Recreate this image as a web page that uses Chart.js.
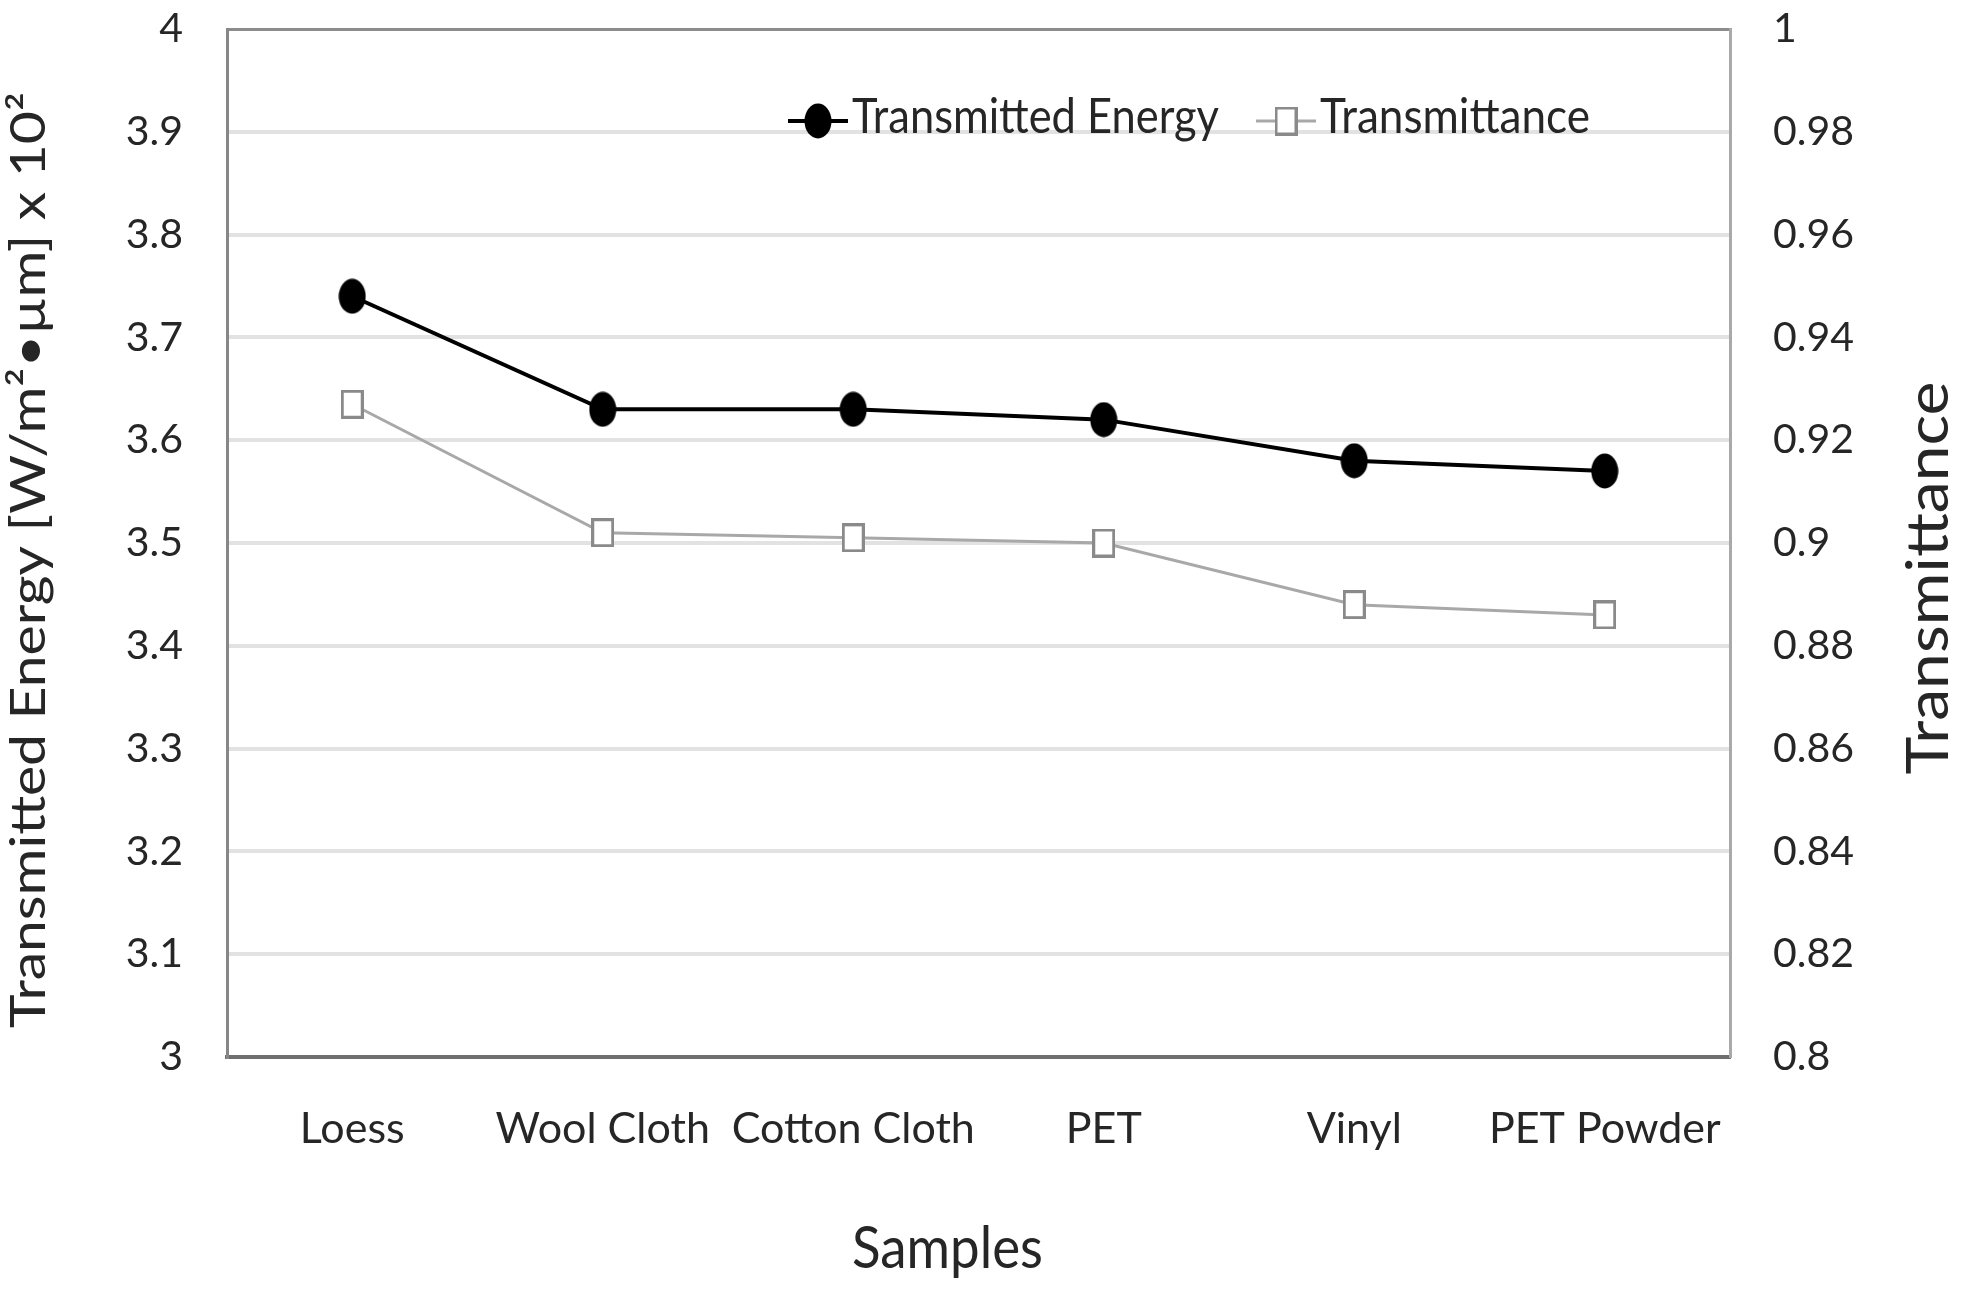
<!DOCTYPE html>
<html>
<head>
<meta charset="utf-8">
<script src="https://cdn.jsdelivr.net/npm/chart.js@4.4.1/dist/chart.umd.min.js"></script>
<style>
  html, body { margin: 0; padding: 0; background: #ffffff; }
  #wrap { width: 1961px; height: 1293px; position: relative; }
</style>
</head>
<body>
<div id="wrap"><canvas id="c"></canvas></div>
<script>
// ---- data ----
const categories = ['Loess', 'Wool Cloth', 'Cotton Cloth', 'PET', 'Vinyl', 'PET Powder'];
const transmittedEnergy = [3.74, 3.63, 3.63, 3.62, 3.58, 3.57];
const transmittance = [0.927, 0.902, 0.901, 0.900, 0.888, 0.886];
const leftTickLabels = ['3', '3.1', '3.2', '3.3', '3.4', '3.5', '3.6', '3.7', '3.8', '3.9', '4'];
const rightTickLabels = ['0.8', '0.82', '0.84', '0.86', '0.88', '0.9', '0.92', '0.94', '0.96', '0.98', '1'];
const seriesNames = ['Transmitted Energy', 'Transmittance'];
const leftAxisTitle = 'Transmitted Energy [W/m²•µm] x 10²';
const rightAxisTitle = 'Transmittance';
const xAxisTitle = 'Samples';

const TEXT = '#262626';
const FONT = 'Lato, "Open Sans", sans-serif';

// ---- marker images ----
function makeEllipse(w, h, color) {
  const c = document.createElement('canvas');
  c.width = w; c.height = h;
  const g = c.getContext('2d');
  g.fillStyle = color;
  g.beginPath();
  g.ellipse(w / 2, h / 2, w / 2 - 0.5, h / 2 - 0.5, 0, 0, Math.PI * 2);
  g.fill();
  return c;
}
function makeSquare(w, h, stroke, lw) {
  const c = document.createElement('canvas');
  c.width = w; c.height = h;
  const g = c.getContext('2d');
  g.fillStyle = '#ffffff';
  g.fillRect(0, 0, w, h);
  g.strokeStyle = stroke;
  g.lineWidth = lw;
  g.strokeRect(lw / 2, lw / 2, w - lw, h - lw);
  return c;
}
const dotImg = makeEllipse(28, 36, '#000000');
const sqImg = makeSquare(23, 29, '#8a8a8a', 3);

// ---- helper for stretched text ----
function drawText(ctx, text, x, y, size, targetLen, rot, align) {
  ctx.save();
  ctx.font = size + 'px ' + FONT;
  const w = ctx.measureText(text).width;
  const sx = targetLen ? targetLen / w : 1;
  ctx.translate(x, y);
  ctx.rotate(rot);
  ctx.scale(sx, 1);
  ctx.fillStyle = TEXT;
  ctx.textAlign = align;
  ctx.textBaseline = 'alphabetic';
  ctx.fillText(text, 0, 0);
  ctx.restore();
  return w * sx;
}

const decorPlugin = {
  id: 'decor',
  afterDraw(chart) {
    const ctx = chart.ctx;
    const a = chart.chartArea;
    const midY = (a.top + a.bottom) / 2;
    // axis titles
    drawText(ctx, leftAxisTitle, 45, midY + 17, 49, 936, -Math.PI / 2, 'center');
    drawText(ctx, rightAxisTitle, 1948, midY + 35, 58, 393, -Math.PI / 2, 'center');
    drawText(ctx, xAxisTitle, a.left + (a.right - a.left) / 2 - 31, 1268, 58, 191, 0, 'center');

    // legend (inside plot area, top)
    const ds = chart.data.datasets;
    const ly = 121;
    let x = 788;
    const widths = [367, 270];
    ds.forEach((d, i) => {
      ctx.save();
      ctx.strokeStyle = d.borderColor;
      ctx.lineWidth = d.borderWidth;
      ctx.beginPath();
      ctx.moveTo(x, ly);
      ctx.lineTo(x + 60, ly);
      ctx.stroke();
      const img = d.pointStyle;
      ctx.drawImage(img, x + 30 - img.width / 2, ly - img.height / 2);
      ctx.restore();
      const tw = drawText(ctx, d.label, x + 64, 133, 49, widths[i], 0, 'left');
      x = x + 64 + tw + 37;
    });
  }
};

function fixY(width) {
  return (s) => { s.width = width; s.paddingTop = 0; s.paddingBottom = 0; };
}

new Chart(document.getElementById('c'), {
  type: 'line',
  data: {
    labels: categories,
    datasets: [
      {
        label: seriesNames[0],
        data: transmittedEnergy,
        yAxisID: 'y',
        borderColor: '#000000',
        backgroundColor: '#000000',
        borderWidth: 4,
        pointStyle: dotImg,
        pointRadius: 14,
        tension: 0,
        fill: false
      },
      {
        label: seriesNames[1],
        data: transmittance,
        yAxisID: 'y1',
        borderColor: '#a8a8a8',
        backgroundColor: '#ffffff',
        borderWidth: 3,
        pointStyle: sqImg,
        pointRadius: 12,
        tension: 0,
        fill: false
      }
    ]
  },
  options: {
    responsive: true,
    maintainAspectRatio: false,
    animation: false,
    events: [],
    layout: { padding: { top: 29, left: 0, right: 0, bottom: 0 } },
    plugins: {
      legend: { display: false },
      tooltip: { enabled: false },
      title: { display: false }
    },
    font: { family: FONT },
    scales: {
      x: {
        type: 'category',
        offset: true,
        grid: { display: false, drawTicks: false },
        border: { display: true, color: '#6f6f6f', width: 4 },
        ticks: {
          color: TEXT,
          padding: 46,
          maxRotation: 0,
          autoSkip: false,
          font: { family: FONT, size: 43 }
        },
        afterFit: (s) => { s.height = 236; s.paddingLeft = 0; s.paddingRight = 0; }
      },
      y: {
        type: 'linear',
        position: 'left',
        min: 3,
        max: 4,
        grid: {
          drawTicks: false,
          color: (c) => (c.index === 10 ? '#8c8c8c' : '#e2e2e2'),
          lineWidth: (c) => (c.index === 10 ? 3 : 4)
        },
        border: { display: true, color: '#878787', width: 3 },
        ticks: {
          stepSize: 0.1,
          color: TEXT,
          padding: 44,
          font: { family: FONT, size: 41 },
          callback: (v, i) => leftTickLabels[i]
        },
        afterFit: fixY(227)
      },
      y1: {
        type: 'linear',
        position: 'right',
        min: 0.8,
        max: 1.0,
        grid: { display: false, drawTicks: false },
        border: { display: true, color: '#a9a9a9', width: 3 },
        ticks: {
          stepSize: 0.02,
          color: TEXT,
          padding: 43,
          font: { family: FONT, size: 41 },
          callback: (v, i) => rightTickLabels[i]
        },
        afterFit: fixY(231)
      }
    }
  },
  plugins: [decorPlugin]
});
</script>
</body>
</html>
